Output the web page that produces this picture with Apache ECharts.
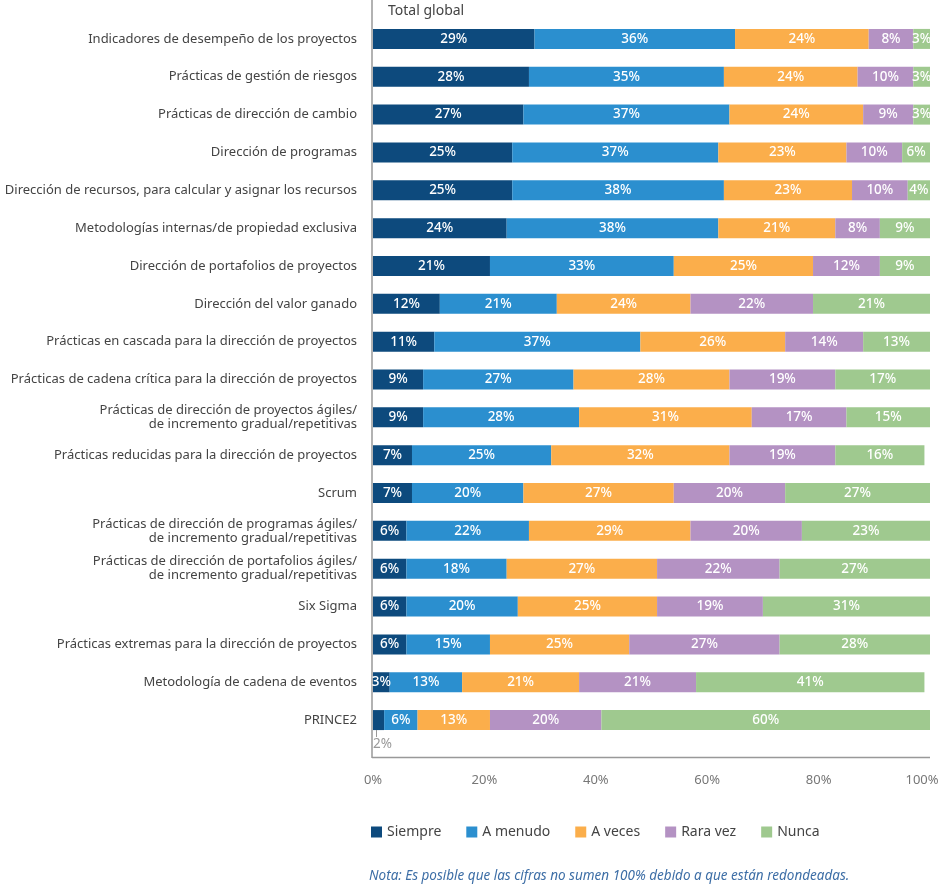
<!DOCTYPE html>
<html>
<head>
<meta charset="utf-8">
<script src="https://cdn.jsdelivr.net/npm/echarts@6/dist/echarts.min.js"></script>
<style>
  html, body { margin: 0; padding: 0; background: #fff; }
  #main { width: 942px; height: 886px; }
</style>
</head>
<body>
<div id="main"></div>
<script>
// categorias, de arriba a abajo
var categorias = [
  'Indicadores de desempeño de los proyectos',
  'Prácticas de gestión de riesgos',
  'Prácticas de dirección de cambio',
  'Dirección de programas',
  'Dirección de recursos, para calcular y asignar los recursos',
  'Metodologías internas/de propiedad exclusiva',
  'Dirección de portafolios de proyectos',
  'Dirección del valor ganado',
  'Prácticas en cascada para la dirección de proyectos',
  'Prácticas de cadena crítica para la dirección de proyectos',
  'Prácticas de dirección de proyectos ágiles/\nde incremento gradual/repetitivas',
  'Prácticas reducidas para la dirección de proyectos',
  'Scrum',
  'Prácticas de dirección de programas ágiles/\nde incremento gradual/repetitivas',
  'Prácticas de dirección de portafolios ágiles/\nde incremento gradual/repetitivas',
  'Six Sigma',
  'Prácticas extremas para la dirección de proyectos',
  'Metodología de cadena de eventos',
  'PRINCE2'
];

var siempre  = [29, 28, 27, 25, 25, 24, 21, 12, 11, 9, 9, 7, 7, 6, 6, 6, 6, 3, 2];
var aMenudo  = [36, 35, 37, 37, 38, 38, 33, 21, 37, 27, 28, 25, 20, 22, 18, 20, 15, 13, 6];
var aVeces   = [24, 24, 24, 23, 23, 21, 25, 24, 26, 28, 31, 32, 27, 29, 27, 25, 25, 21, 13];
var raraVez  = [8, 10, 9, 10, 10, 8, 12, 22, 14, 19, 17, 19, 20, 20, 22, 19, 27, 21, 20];
var nunca    = [3, 3, 3, 6, 4, 9, 9, 21, 13, 17, 15, 16, 27, 23, 27, 31, 28, 41, 60];

var xTicks = [0, 20, 40, 60, 80, 100];

var nombres = ['Siempre', 'A menudo', 'A veces', 'Rara vez', 'Nunca'];
var colores = ['#0d4a7d', '#2b8fcf', '#fbae4b', '#b492c3', '#9fc98f'];

var chart = echarts.init(document.getElementById('main'));

function serie(nombre, datos, color) {
  return {
    name: nombre,
    type: 'bar',
    stack: 'total',
    barWidth: 20,
    itemStyle: { color: color },
    label: {
      show: true,
      position: 'inside',
      formatter: '{c}%',
      color: '#fff',
      fontSize: 13.5,
      fontWeight: 500,
      fontFamily: 'Noto Sans'
    },
    data: datos
  };
}

var series = [
  serie(nombres[0], siempre, colores[0]),
  serie(nombres[1], aMenudo, colores[1]),
  serie(nombres[2], aVeces, colores[2]),
  serie(nombres[3], raraVez, colores[3]),
  serie(nombres[4], nunca, colores[4])
];

// el 2% de PRINCE2 va fuera de la barra, debajo, con una rayita
var ultimo = siempre.length - 1;
series[0].data = siempre.map(function (v, i) {
  if (i !== ultimo) return v;
  return {
    value: v,
    label: {
      position: [3, 20],
      align: 'left',
      verticalAlign: 'top',
      formatter: '{t|}\n{v|{c}%}',
      rich: {
        t: { width: 1, height: 7, backgroundColor: '#999' },
        v: { color: '#999', fontSize: 13.5, fontWeight: 'normal', padding: [0, 0, 0, -3] }
      }
    }
  };
});

var option = {
  animation: false,
  textStyle: { fontFamily: 'Noto Sans' },
  title: [{
    text: 'Total global',
    left: 388,
    top: 4,
    padding: 0,
    textStyle: { fontSize: 14, fontWeight: 'normal', color: '#444' }
  }, {
    text: 'Nota: Es posible que las cifras no sumen 100% debido a que están redondeadas.',
    left: 369,
    top: 869,
    padding: 0,
    textStyle: { fontSize: 13.5, fontWeight: 'normal', fontStyle: 'italic', color: '#3d6ea6' }
  }],
  legend: {
    left: 366,
    top: 820,
    icon: 'rect',
    itemWidth: 11,
    itemHeight: 11,
    itemGap: 25,
    textStyle: { fontSize: 14, color: '#444' },
    data: nombres
  },
  grid: {
    left: 373,
    right: 12,
    top: 20,
    bottom: 147,
    outerBoundsMode: 'none'
  },
  xAxis: {
    type: 'value',
    min: xTicks[0],
    max: xTicks[xTicks.length - 1],
    interval: 20,
    axisLine: { show: false },
    axisTick: { show: false },
    splitLine: { show: false },
    axisLabel: {
      formatter: function (v) {
        // el 100% se corre un poco a la izquierda para que quepa
        return v === 100 ? '{m|' + v + '%}' : v + '%';
      },
      rich: {
        m: { color: '#777', fontSize: 13, padding: [0, 16, 0, 0] }
      },
      color: '#777',
      fontSize: 13,
      margin: 35
    }
  },
  yAxis: {
    type: 'category',
    inverse: true,
    data: categorias,
    axisLine: { show: false },
    axisTick: { show: false },
    axisLabel: {
      color: '#444',
      fontSize: 13,
      margin: 16,
      lineHeight: 14
    }
  },
  // marco gris de la zona de barras
  graphic: [{
    type: 'line',
    shape: { x1: 372, y1: 0, x2: 372, y2: 758 },
    style: { stroke: '#999', lineWidth: 1.5 }
  }, {
    type: 'line',
    shape: { x1: 372, y1: 757.5, x2: 930, y2: 757.5 },
    style: { stroke: '#999', lineWidth: 1.5 }
  }],
  series: series
};

chart.setOption(option);
</script>
</body>
</html>
